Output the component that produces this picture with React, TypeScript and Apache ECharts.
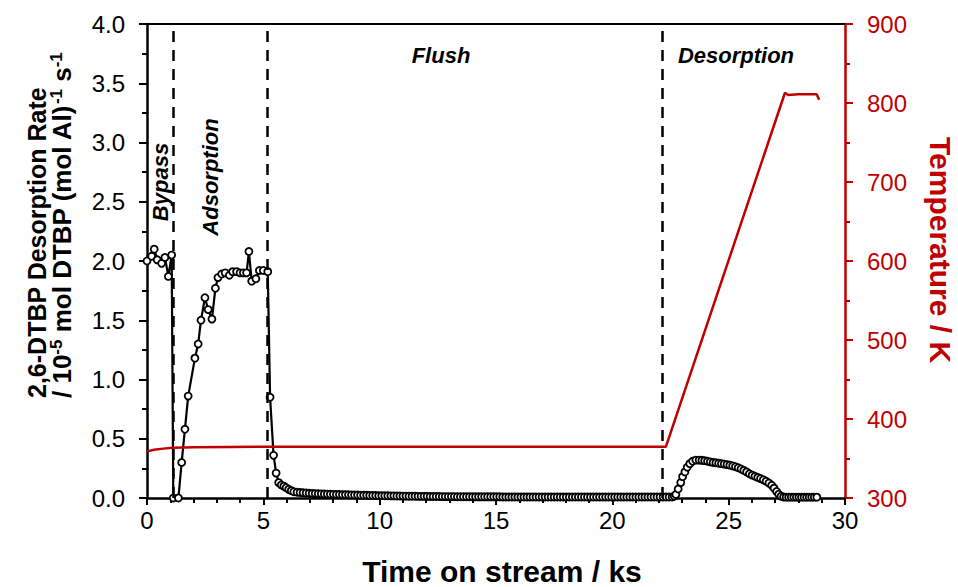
import React, { useEffect, useRef } from "react";
import * as echarts from "echarts";

const FONT = '"Liberation Sans", Arial, Helvetica, sans-serif';
const RED = "#C00000";

// ---- DTBP desorption rate (10^-5 mol DTBP (mol Al)^-1 s^-1) vs time (ks) ----
const bypassTime = [0.0, 0.2, 0.31, 0.44, 0.63, 0.77, 0.92, 1.06];
const bypassRate = [2.0, 2.04, 2.1, 2.01, 1.98, 2.03, 1.87, 2.05];

const adsorptionTime = [
  1.13, 1.35, 1.49, 1.63, 1.77, 2.06, 2.2, 2.32, 2.49, 2.63, 2.79, 2.94, 3.05, 3.21, 3.36,
  3.54, 3.68, 3.85, 4.0, 4.14, 4.28, 4.38, 4.5, 4.68, 4.83, 5.0, 5.19,
];
const adsorptionRate = [
  0, 0, 0.3, 0.58, 0.86, 1.18, 1.3, 1.5, 1.69, 1.59, 1.51, 1.77, 1.86, 1.89, 1.9,
  1.88, 1.91, 1.91, 1.9, 1.9, 1.9, 2.08, 1.83, 1.85, 1.92, 1.92, 1.91,
];

const flushTimeA = [
  5.29, 5.44, 5.55, 5.66, 5.77, 5.88, 5.98, 6.09, 6.2, 6.31, 6.45,
  6.58, 6.71, 6.84, 6.97, 7.1, 7.23, 7.36, 7.49, 7.62, 7.75,
  7.88, 8.01, 8.14, 8.27, 8.4, 8.53, 8.66, 8.79, 8.92, 9.05,
  9.18, 9.31, 9.44, 9.57, 9.7, 9.83, 9.96, 10.09, 10.22, 10.35,
  10.48, 10.61, 10.74, 10.87, 11.0, 11.13, 11.26, 11.39, 11.52, 11.65, 11.78,
];
const flushRateA = [
  0.85, 0.36, 0.21, 0.13, 0.11, 0.1, 0.087, 0.073, 0.062, 0.053, 0.048,
  0.046, 0.044, 0.042, 0.04, 0.039, 0.037, 0.036, 0.035, 0.034, 0.033,
  0.032, 0.031, 0.03, 0.029, 0.028, 0.028, 0.027, 0.026, 0.025, 0.025,
  0.024, 0.023, 0.023, 0.022, 0.021, 0.021, 0.02, 0.02, 0.019, 0.019,
  0.018, 0.018, 0.017, 0.017, 0.016, 0.016, 0.015, 0.015, 0.015, 0.014, 0.014,
];

const flushTimeB = [
  11.91, 12.04, 12.17, 12.3, 12.43, 12.56, 12.69, 12.82, 12.95, 13.08,
  13.21, 13.34, 13.47, 13.6, 13.73, 13.86, 13.99, 14.12, 14.25, 14.38,
  14.51, 14.64, 14.77, 14.9, 15.03, 15.16, 15.29, 15.42, 15.55, 15.68,
  15.81, 15.94, 16.07, 16.2, 16.33, 16.46, 16.59, 16.72, 16.85, 16.98,
  17.11, 17.24, 17.37, 17.5, 17.63, 17.76, 17.89, 18.02, 18.15, 18.28,
  18.41, 18.54, 18.67, 18.8, 18.93, 19.06, 19.19, 19.32, 19.45, 19.58,
  19.71, 19.84, 19.97, 20.1, 20.23, 20.36, 20.49, 20.62, 20.75, 20.88,
  21.01, 21.14, 21.27, 21.4, 21.53, 21.66, 21.79, 21.92, 22.05, 22.18,
  22.31, 22.44,
];
const flushRateB = [
  0.014, 0.014, 0.013, 0.013, 0.013, 0.013, 0.012, 0.012, 0.012, 0.012,
  0.012, 0.011, 0.011, 0.011, 0.011, 0.011, 0.011, 0.01, 0.01, 0.01,
  0.01, 0.01, 0.01, 0.01, 0.01, 0.01, 0.009, 0.009, 0.009, 0.009,
  0.009, 0.009, 0.009, 0.009, 0.009, 0.009, 0.009, 0.008, 0.008, 0.008,
  0.008, 0.008, 0.008, 0.008, 0.008, 0.008, 0.008, 0.008, 0.008, 0.008,
  0.008, 0.008, 0.008, 0.008, 0.008, 0.008, 0.008, 0.008, 0.008, 0.008,
  0.008, 0.008, 0.008, 0.008, 0.008, 0.008, 0.008, 0.008, 0.008, 0.008,
  0.008, 0.008, 0.008, 0.008, 0.008, 0.008, 0.008, 0.008, 0.008, 0.008,
  0.008, 0.008,
];

const desorptionTime = [
  22.57, 22.66, 22.73, 22.83, 22.94, 23.02, 23.12, 23.22, 23.33, 23.45,
  23.59, 23.73, 23.85, 23.97, 24.09, 24.21, 24.33, 24.45, 24.57,
  24.69, 24.81, 24.93, 25.05, 25.17, 25.29, 25.41, 25.53, 25.65, 25.77,
  25.89, 26.01, 26.13, 26.25, 26.37, 26.49, 26.61, 26.73, 26.85, 26.95,
  27.06, 27.15, 27.25, 27.36, 27.47, 27.58, 27.69, 27.8, 27.91, 28.02,
  28.13, 28.24, 28.35, 28.46, 28.57, 28.68, 28.79,
];
const desorptionRate = [
  0.008, 0.015, 0.03, 0.076, 0.13, 0.18, 0.22, 0.26, 0.29, 0.31,
  0.32, 0.32, 0.318, 0.315, 0.31, 0.305, 0.3, 0.297, 0.293,
  0.29, 0.286, 0.282, 0.277, 0.271, 0.264, 0.255, 0.245, 0.233, 0.22,
  0.205, 0.193, 0.183, 0.174, 0.164, 0.153, 0.141, 0.126, 0.107, 0.083,
  0.055, 0.032, 0.015, 0.008, 0.007, 0.007, 0.007, 0.007, 0.007, 0.007,
  0.007, 0.007, 0.007, 0.007, 0.007, 0.007, 0.007,
];

// ---- Temperature (K) vs time (ks) ----
const tempTime = [0, 0.3, 0.7, 1.1, 2.0, 3.5, 5.0, 22.3, 27.42, 27.56, 28.0, 28.78, 28.89];
const temperature = [359, 361, 362.5, 363.5, 364.3, 364.6, 364.8, 364.8, 813, 810, 811, 811, 804];

// ---- Phase boundaries (ks) and labels ----
const phaseBoundaries = [1.14, 5.16, 22.13];
const phaseLabels = ["Bypass", "Adsorption", "Flush", "Desorption"];

const zip = (xs: number[], ys: number[]) => xs.map((x, i) => [x, ys[i]]);

export default function App() {
  const ref = useRef<HTMLDivElement>(null);

  useEffect(() => {
    document.body.style.margin = "0";
    if (!ref.current) return;
    const chart = echarts.init(ref.current, undefined, { renderer: "svg" });

    const rateData = [
      ...zip(bypassTime, bypassRate),
      ...zip(adsorptionTime, adsorptionRate),
      ...zip(flushTimeA, flushRateA),
      ...zip(flushTimeB, flushRateB),
      ...zip(desorptionTime, desorptionRate),
    ];
    const tempData = zip(tempTime, temperature);

    const phaseTextStyle = {
      fontFamily: FONT,
      fontSize: 22,
      fontWeight: "bold",
      fontStyle: "italic",
      fill: "#000",
      align: "center",
      verticalAlign: "middle",
    };

    chart.setOption({
      animation: false,
      backgroundColor: "#fff",
      textStyle: { fontFamily: FONT },
      grid: { left: 147, right: 113, top: 24, bottom: 89, containLabel: false },
      xAxis: [
        {
          type: "value",
          min: 0,
          max: 30,
          interval: 5,
          position: "bottom",
          axisLine: { onZero: false, lineStyle: { color: "#000", width: 2.5 } },
          axisTick: { length: 7, lineStyle: { color: "#000", width: 2 } },
          minorTick: { show: true, splitNumber: 5, length: 5, lineStyle: { color: "#000", width: 2 } },
          splitLine: { show: false },
          axisLabel: { fontFamily: FONT, fontSize: 24, color: "#000", margin: 10 },
        },
        {
          type: "value",
          min: 0,
          max: 30,
          position: "top",
          axisLine: { onZero: false, lineStyle: { color: "#000", width: 2 } },
          axisTick: { show: false },
          axisLabel: { show: false },
          splitLine: { show: false },
        },
      ],
      yAxis: [
        {
          type: "value",
          min: 0,
          max: 4,
          interval: 0.5,
          position: "left",
          axisLine: { show: true, onZero: false, lineStyle: { color: "#000", width: 2.5 } },
          axisTick: { show: true, length: 8, lineStyle: { color: "#000", width: 2 } },
          minorTick: { show: true, splitNumber: 2, length: 5, lineStyle: { color: "#000", width: 2 } },
          splitLine: { show: false },
          axisLabel: {
            fontFamily: FONT,
            fontSize: 24,
            color: "#000",
            margin: 22,
            formatter: (v: number) => v.toFixed(1),
          },
        },
        {
          type: "value",
          min: 300,
          max: 900,
          interval: 100,
          position: "right",
          axisLine: { show: true, onZero: false, lineStyle: { color: RED, width: 2.5 } },
          axisTick: { show: true, length: 8, lineStyle: { color: RED, width: 2 } },
          minorTick: { show: true, splitNumber: 2, length: 5, lineStyle: { color: RED, width: 2 } },
          splitLine: { show: false },
          axisLabel: { fontFamily: FONT, fontSize: 24, color: RED, margin: 22 },
        },
      ],
      series: [
        {
          name: "2,6-DTBP desorption rate",
          type: "line",
          xAxisIndex: 0,
          yAxisIndex: 0,
          data: rateData,
          showAllSymbol: true,
          symbol: "circle",
          symbolSize: 7,
          itemStyle: { color: "#fff", borderColor: "#000", borderWidth: 1.8 },
          lineStyle: { color: "#000", width: 2.2 },
          z: 3,
          markLine: {
            silent: true,
            symbol: ["none", "none"],
            label: { show: false },
            lineStyle: { color: "#000", width: 2.5, type: [11, 8] },
            data: phaseBoundaries.map((b) => ({ xAxis: b })),
          },
        },
        {
          name: "Temperature",
          type: "line",
          xAxisIndex: 0,
          yAxisIndex: 1,
          data: tempData,
          symbol: "none",
          lineStyle: { color: RED, width: 2.5 },
          z: 4,
        },
      ],
      graphic: [
        {
          type: "text",
          x: 37,
          y: 398,
          rotation: Math.PI / 2,
          style: {
            text: "2,6-DTBP Desorption Rate",
            fontFamily: FONT,
            fontSize: 25,
            fontWeight: "bold",
            fill: "#000",
            align: "left",
            verticalAlign: "middle",
          },
        },
        {
          type: "text",
          x: 62,
          y: 398,
          rotation: Math.PI / 2,
          style: {
            text: "{n|/ 10}{s|-5}{n| mol DTBP (mol Al)}{s|-1}{n| s}{s|-1}",
            fontFamily: FONT,
            fontSize: 26,
            fontWeight: "bold",
            fill: "#000",
            align: "left",
            verticalAlign: "middle",
            rich: {
              n: { fontFamily: FONT, fontSize: 26, fontWeight: "bold", fill: "#000", lineHeight: 28 },
              s: { fontFamily: FONT, fontSize: 17, fontWeight: "bold", fill: "#000", lineHeight: 16, verticalAlign: "top" },
            },
          },
        },
        {
          type: "text",
          x: 502,
          y: 571,
          style: {
            text: "Time on stream / ks",
            fontFamily: FONT,
            fontSize: 30,
            fontWeight: "bold",
            fill: "#000",
            align: "center",
            verticalAlign: "middle",
          },
        },
        {
          type: "text",
          x: 940,
          y: 250,
          rotation: -Math.PI / 2,
          style: {
            text: "Temperature / K",
            fontFamily: FONT,
            fontSize: 30,
            fontWeight: "bold",
            fill: RED,
            align: "center",
            verticalAlign: "middle",
          },
        },
        { type: "text", x: 160, y: 182, rotation: Math.PI / 2, style: { ...phaseTextStyle, text: phaseLabels[0] } },
        { type: "text", x: 210, y: 177, rotation: Math.PI / 2, style: { ...phaseTextStyle, text: phaseLabels[1] } },
        { type: "text", x: 441, y: 55, style: { ...phaseTextStyle, text: phaseLabels[2] } },
        { type: "text", x: 736, y: 55, style: { ...phaseTextStyle, text: phaseLabels[3] } },
      ],
    });

    return () => chart.dispose();
  }, []);

  return <div ref={ref} style={{ width: 958, height: 587 }} />;
}
